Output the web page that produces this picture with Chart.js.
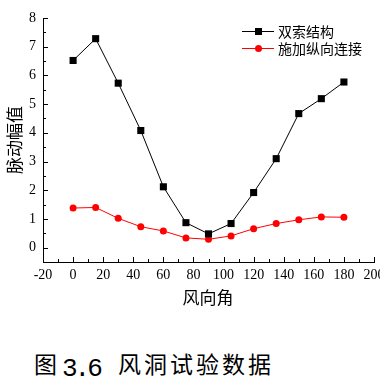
<!DOCTYPE html>
<html>
<head>
<meta charset="utf-8">
<script src="https://cdn.jsdelivr.net/npm/chart.js@4.4.1/dist/chart.umd.min.js"></script>
<style>
body { margin: 0; background: #fff; width: 380px; height: 378px; overflow: hidden; position: relative; }
#wrap { position: absolute; left: 0; top: 0; width: 400px; height: 320px; }
.lbl { position: absolute; color: #000; white-space: nowrap; }
#cap1 { font: 23px/1 "Noto Sans CJK SC"; left: 34px; top: 352px; }
#cap2 { font: 26px/1 "Liberation Mono"; letter-spacing: -3px; left: 62px; top: 356px; }
#cap3 { font: 23px/1 "Noto Sans CJK SC"; left: 118px; top: 352px; letter-spacing: 3px; }
</style>
</head>
<body>
<div id="wrap"><canvas id="chart" width="400" height="320"></canvas></div>
<div class="lbl" id="cap1">图</div>
<div class="lbl" id="cap2">3.6</div>
<div class="lbl" id="cap3">风洞试验数据</div>
<script>
const angles = [0, 15, 30, 45, 60, 75, 90, 105, 120, 135, 150, 165, 180];
const doubleCable = [6.52, 7.28, 5.73, 4.08, 2.12, 0.87, 0.48, 0.84, 1.92, 3.1, 4.67, 5.19, 5.77];
const withLongitudinal = [1.38, 1.4, 1.02, 0.73, 0.58, 0.34, 0.29, 0.41, 0.66, 0.84, 0.97, 1.07, 1.06];
const seriesNames = ['双索结构', '施加纵向连接'];
const xTitle = '风向角';
const yTitle = '脉动幅值';

// inward major / minor ticks like the original plot, plus axis titles
const inwardTicks = {
    id: 'inwardTicks',
    afterDraw(chart) {
        const ctx = chart.ctx;
        const x = chart.scales.x, y = chart.scales.y;
        const a = chart.chartArea;
        ctx.save();
        ctx.strokeStyle = '#000';
        ctx.lineWidth = 1;
        ctx.beginPath();
        for (let v = -20; v <= 200; v += 10) {
            const px = Math.round(x.getPixelForValue(v)) + 0.5;
            const len = v % 20 === 0 ? 5 : 3;
            ctx.moveTo(px, a.bottom);
            ctx.lineTo(px, a.bottom - len);
        }
        for (let v = -0.5; v <= 8; v += 0.5) {
            const py = Math.round(y.getPixelForValue(v)) + 0.5;
            const len = Number.isInteger(v) ? 5 : 3;
            ctx.moveTo(a.left, py);
            ctx.lineTo(a.left + len, py);
        }
        ctx.stroke();

        ctx.fillStyle = '#000';
        ctx.font = '17px "Noto Sans CJK SC"';
        ctx.textAlign = 'center';
        ctx.textBaseline = 'middle';
        ctx.fillText(xTitle, 208, 298);
        ctx.translate(15, 140);
        ctx.rotate(-Math.PI / 2);
        ctx.fillText(yTitle, 0, 0);
        ctx.restore();
    }
};

// legend in the upper right corner
const cornerLegend = {
    id: 'cornerLegend',
    afterDraw(chart) {
        const ctx = chart.ctx;
        ctx.save();
        ctx.font = '14px "Noto Sans CJK SC"';
        ctx.textBaseline = 'middle';
        chart.data.datasets.forEach((ds, i) => {
            const yy = 31 + i * 17;
            ctx.strokeStyle = ds.borderColor;
            ctx.lineWidth = 1;
            ctx.beginPath();
            ctx.moveTo(242, yy + 0.5);
            ctx.lineTo(274, yy + 0.5);
            ctx.stroke();
            ctx.fillStyle = ds.backgroundColor;
            if (ds.pointStyle === 'rect') {
                ctx.fillRect(255, yy - 3, 7, 7);
            } else {
                ctx.beginPath();
                ctx.arc(258.5, yy + 0.5, 3.5, 0, Math.PI * 2);
                ctx.fill();
            }
            ctx.fillStyle = '#000';
            ctx.fillText(ds.label, 278, yy + 1);
        });
        ctx.restore();
    }
};

new Chart(document.getElementById('chart'), {
    type: 'line',
    data: {
        labels: angles,
        datasets: [{
            label: seriesNames[0],
            data: angles.map((a, i) => ({x: a, y: doubleCable[i]})),
            borderColor: '#000',
            backgroundColor: '#000',
            borderWidth: 1,
            pointStyle: 'rect',
            pointRadius: 5,
            pointBorderWidth: 0
        }, {
            label: seriesNames[1],
            data: angles.map((a, i) => ({x: a, y: withLongitudinal[i]})),
            borderColor: '#ff0000',
            backgroundColor: '#ff0000',
            borderWidth: 1,
            pointStyle: 'circle',
            pointRadius: 3.5,
            pointBorderWidth: 0
        }]
    },
    options: {
        responsive: false,
        animation: false,
        layout: { padding: { top: 18, right: 26, left: 0, bottom: 0 } },
        plugins: { legend: { display: false }, tooltip: { enabled: false } },
        scales: {
            x: {
                type: 'linear',
                min: -20,
                max: 200,
                grid: { display: false, drawTicks: false },
                border: { display: true, color: '#000', width: 1 },
                ticks: { stepSize: 20, maxRotation: 0, autoSkip: false, padding: 5, color: '#000', font: { family: 'Liberation Serif', size: 14 } },
                afterFit(scale) { scale.height = 58; }
            },
            y: {
                min: -0.5,
                max: 8,
                grid: { display: false, drawTicks: false },
                border: { display: true, color: '#000', width: 1 },
                ticks: { stepSize: 1, includeBounds: false, padding: 7, color: '#000', font: { family: 'Liberation Serif', size: 14 } },
                afterFit(scale) { scale.width = 43; }
            }
        }
    },
    plugins: [inwardTicks, cornerLegend]
});
</script>
</body>
</html>
